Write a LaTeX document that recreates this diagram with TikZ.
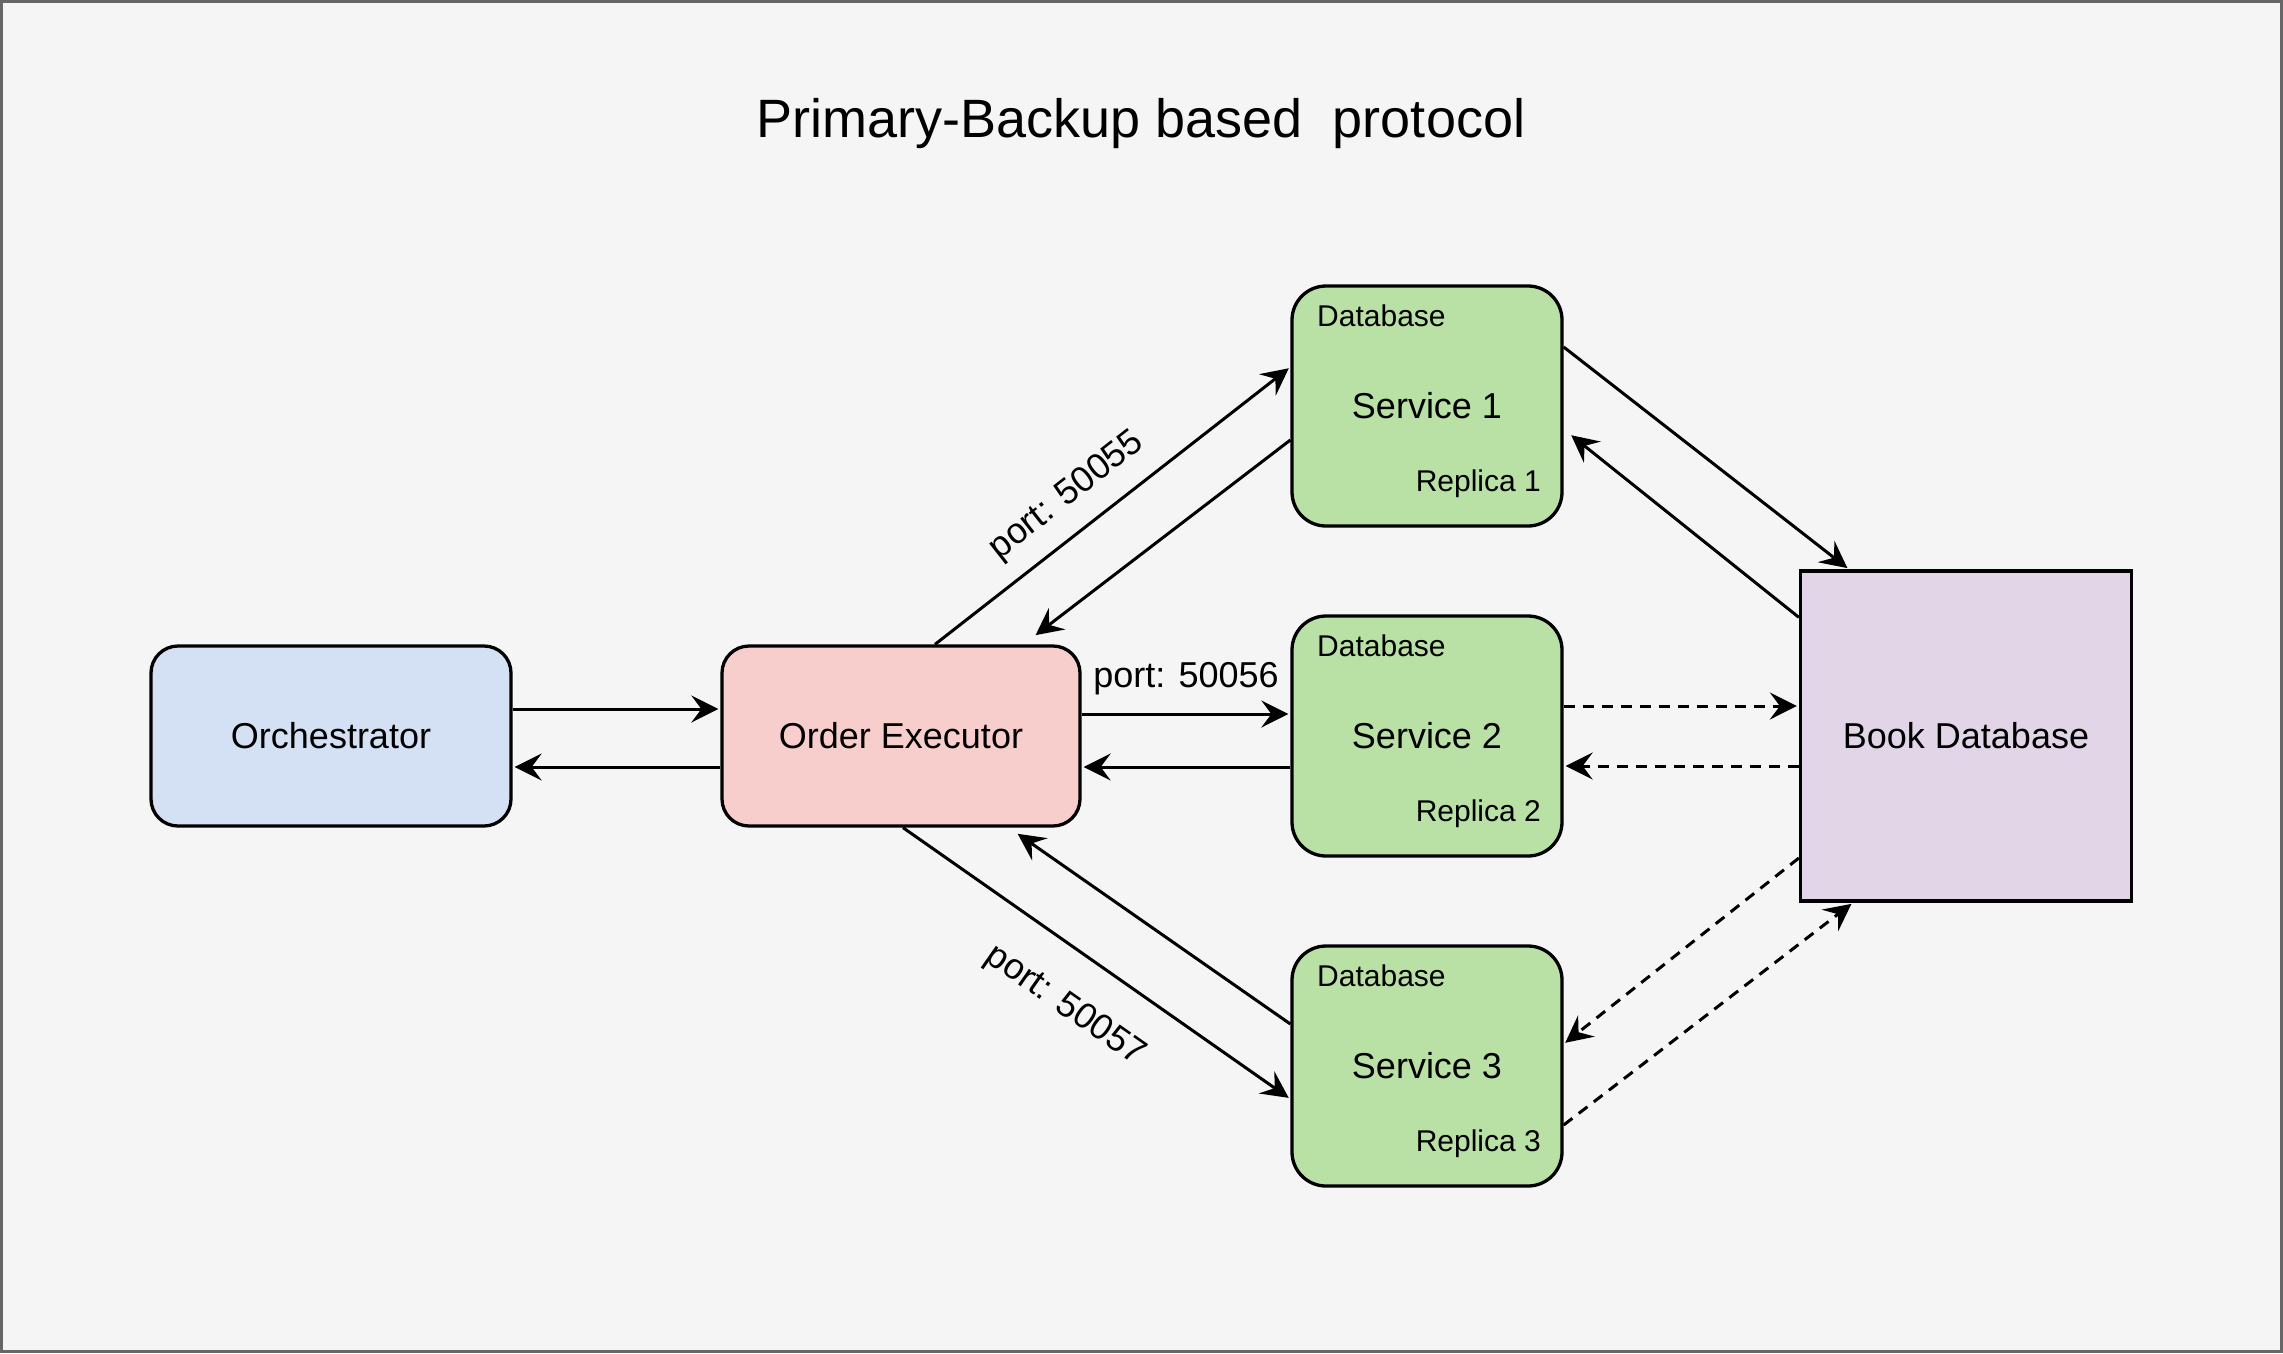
\documentclass[tikz,border=0pt]{standalone}
\usepackage{fontspec}
\setmainfont{Liberation Sans}
\usetikzlibrary{arrows.meta}
\definecolor{bgc}{HTML}{F5F5F5}
\definecolor{framec}{HTML}{666666}
\definecolor{bluef}{HTML}{D4E1F5}
\definecolor{redf}{HTML}{F8CECC}
\definecolor{greenf}{HTML}{B9E0A5}
\definecolor{purplef}{HTML}{E1D5E7}
\tikzset{
  box/.style={draw=black, line width=3.3pt, rounded corners=27pt, minimum width=358pt, minimum height=180pt, inner sep=0pt, font=\fontsize{36}{43}\selectfont},
  svc/.style={draw=black, line width=3.3pt, fill=greenf, rounded corners=34pt, minimum width=270pt, minimum height=240pt, inner sep=0pt, font=\fontsize{36}{43}\selectfont},
  small/.style={font=\fontsize{30}{36}\selectfont, inner sep=0pt},
  conn/.style={line width=3pt, shorten >=2pt, -{Stealth[length=27pt, width=27pt, inset=10pt]}},
  dconn/.style={conn, dash pattern=on 11pt off 8pt},
  lbl/.style={font=\fontsize{36}{43}\selectfont, inner sep=0pt}
}
\begin{document}
\begin{tikzpicture}[x=1pt,y=-1pt]
\fill[framec] (0,0) rectangle (2283,1353);
\fill[bgc] (3,3) rectangle (2280,1350);
\useasboundingbox (0,0) rectangle (2283,1353);

\node[font=\fontsize{54}{64}\selectfont, inner sep=0pt] (title) at (1141,124) {Primary-Backup based\ \ protocol};

\node[box, fill=bluef, minimum width=360pt] (orch) at (331,736) {Orchestrator};
\node[box, fill=redf] (oe) at (901,736) {Order Executor};
\node[svc] (s1) at (1427,406) {Service 1};
\node[svc] (s2) at (1427,736) {Service 2};
\node[svc] (s3) at (1427,1066) {Service 3};
\node[draw=black, line width=3.3pt, fill=purplef, minimum width=331pt, minimum height=330pt, inner sep=0pt, font=\fontsize{36}{43}\selectfont] (bd) at (1966,736) {Book Database};

\node[small, anchor=west] (db1) at (1317,316) {Database};
\node[small, anchor=east] (r1) at (1541,484) {Replica 1};
\node[small, anchor=west] (db2) at (1317,646) {Database};
\node[small, anchor=east] (r2) at (1541,814) {Replica 2};
\node[small, anchor=west] (db3) at (1317,976) {Database};
\node[small, anchor=east] (r3) at (1541,1144) {Replica 3};

% orchestrator <-> order executor
\draw[conn] ([yshift=27pt]orch.east) -- ([yshift=27pt]oe.west);
\draw[conn] ([yshift=-31pt]oe.west) -- ([yshift=-31pt]orch.east);

% order executor <-> service 2
\draw[conn] ([yshift=22pt]oe.east) -- node[lbl, above=18pt] (p2) {port: 50056} ([yshift=22pt]s2.west);
\draw[conn] ([yshift=-31pt]s2.west) -- ([yshift=-31pt]oe.east);

% order executor <-> service 1
\draw[conn] ([xshift=34pt]oe.north) -- ([yshift=39pt]s1.west);
\draw[conn] ([yshift=-34pt]s1.west) -- ([xshift=133pt,yshift=8pt]oe.north);
\node[lbl, rotate=38] (p1) at (1067,496) {port: 50055};

% order executor <-> service 3
\draw[conn] ([xshift=2pt]oe.south) -- ([yshift=-33pt]s3.west);
\draw[conn] ([yshift=42pt]s3.west) -- ([xshift=115pt,yshift=-5pt]oe.south);
\node[lbl, rotate=-35] (p3) at (1065,1006) {port: 50057};

% service 1 <-> book database
\draw[conn] ([yshift=59pt]s1.east) -- ([xshift=-117pt]bd.north);
\draw[conn] ([yshift=-48pt]bd.north west) -- ([xshift=6pt,yshift=-28pt]s1.east);

% service 2 <-> book database
\draw[dconn] ([yshift=30pt]s2.east) -- ([yshift=30pt]bd.west);
\draw[dconn] ([yshift=-30pt]bd.west) -- ([yshift=-30pt]s2.east);

% service 3 <-> book database
\draw[dconn] ([yshift=-122pt]bd.west) -- ([yshift=22pt]s3.east);
\draw[dconn] ([yshift=-59pt]s3.east) -- ([xshift=-113pt]bd.south);
\end{tikzpicture}
\end{document}
